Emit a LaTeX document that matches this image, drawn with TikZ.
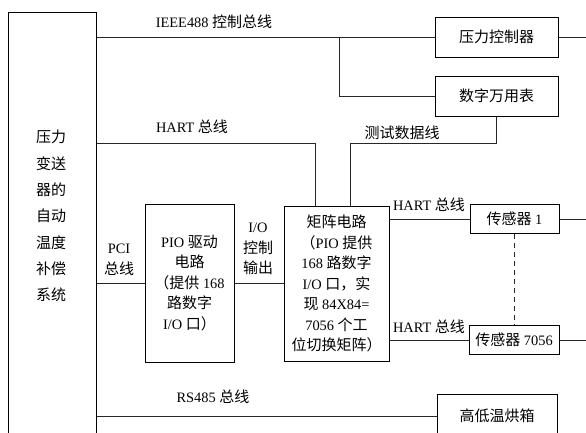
\documentclass[tikz,border=0pt]{standalone}
\usepackage{fontspec}
\setmainfont{Liberation Serif}[Scale=0.96]
\newfontfamily\cjk{Noto Sans CJK SC}
\newcommand\zh[1]{{\cjk #1}}
\begin{document}
\begin{tikzpicture}[x=1pt,y=-1pt,
  box/.style={draw=black,line width=1pt,inner sep=0pt,align=center,font=\fontsize{15}{20.5}\selectfont},
  txt/.style={inner sep=0pt,align=center,font=\fontsize{15}{20.5}\selectfont},
  wire/.style={draw=black!85,line width=0.8pt},
  dwire/.style={wire,dash pattern=on 5pt off 4pt}]
\useasboundingbox (0,0) rectangle (586,432);
% main system box (extends beyond bottom edge)
\node[draw=black,line width=1pt,minimum width=88pt,minimum height=448pt,inner sep=0pt] (sys) at (52,236) {};
\node[txt,font=\fontsize{15}{26.3}\selectfont] (systxt) at (51,216)
  {\zh{压力}\\\zh{变送}\\\zh{器的}\\\zh{自动}\\\zh{温度}\\\zh{补偿}\\\zh{系统}};
% boxes
\node[box,minimum width=123pt,minimum height=40pt] (pc) at (496.5,37) {\zh{压力控制器}};
\node[box,minimum width=123pt,minimum height=40pt] (dmm) at (496.5,96) {\zh{数字万用表}};
\node[box,minimum width=89pt,minimum height=158pt] (pio) at (189.5,283)
  {PIO \zh{驱动}\\\zh{电路}\\\zh{（提供} 168\\\zh{路数字}\\I/O \zh{口）}};
\node[box,minimum width=105pt,minimum height=155pt] (mat) at (336.5,283.5)
  {\zh{矩阵电路}\\\zh{（}PIO \zh{提供}\\168 \zh{路数字}\\I/O \zh{口，实}\\\zh{现} 84X84=\\7056 \zh{个工}\\\zh{位切换矩阵）}};
\node[box,minimum width=89pt,minimum height=29pt] (s1) at (514.5,219) {\zh{传感器} 1};
\node[box,minimum width=90pt,minimum height=29pt] (s2) at (514,340) {\zh{传感器} 7056};
\node[box,minimum width=120pt,minimum height=44pt] (oven) at (497,416) {\zh{高低温烘箱}};
% helper coordinates
\coordinate (redge) at (586,0);
\coordinate (hy) at (0,143);
\coordinate (j1) at (339,37);
\coordinate (t1) at (315,0);
\coordinate (t2) at (350,0);
% wires
\draw[wire] (sys.east |- pc.west) -- (pc.west);
\draw[wire] (j1) |- (dmm.west);
\draw[wire] (pc.east) -- (pc.east -| redge);
\draw[wire] (dmm.south) -- (dmm.south |- hy) -- (t2 |- hy) -- (t2 |- mat.north);
\draw[wire] (sys.east |- hy) -| (t1 |- mat.north);
\draw[wire] (sys.east |- pio.west) -- (pio.west);
\draw[wire] (pio.east) -- (mat.west |- pio.east);
\draw[wire] (mat.east |- s1.west) -- (s1.west);
\draw[wire] (s1.east) -- (s1.east -| redge);
\draw[dwire] (s1.south) -- (s1.south |- s2.north);
\draw[wire] (mat.east |- s2.west) -- (s2.west);
\draw[wire] (s2.east) -- (s2.east -| redge);
\draw[wire] (sys.east |- oven.west) -- (oven.west);
% labels
\node[txt] (l1) at (214,22) {IEEE488 \zh{控制总线}};
\node[txt] (l2) at (192,127) {HART \zh{总线}};
\node[txt] (l3) at (402,133) {\zh{测试数据线}};
\node[txt] (l4) at (119,260) {PCI\\\zh{总线}};
\node[txt] (l5) at (258,249) {I/O\\\zh{控制}\\\zh{输出}};
\node[txt] (l6) at (429,205) {HART \zh{总线}};
\node[txt] (l7) at (429,327) {HART \zh{总线}};
\node[txt] (l8) at (213,397) {RS485 \zh{总线}};
\end{tikzpicture}
\end{document}
